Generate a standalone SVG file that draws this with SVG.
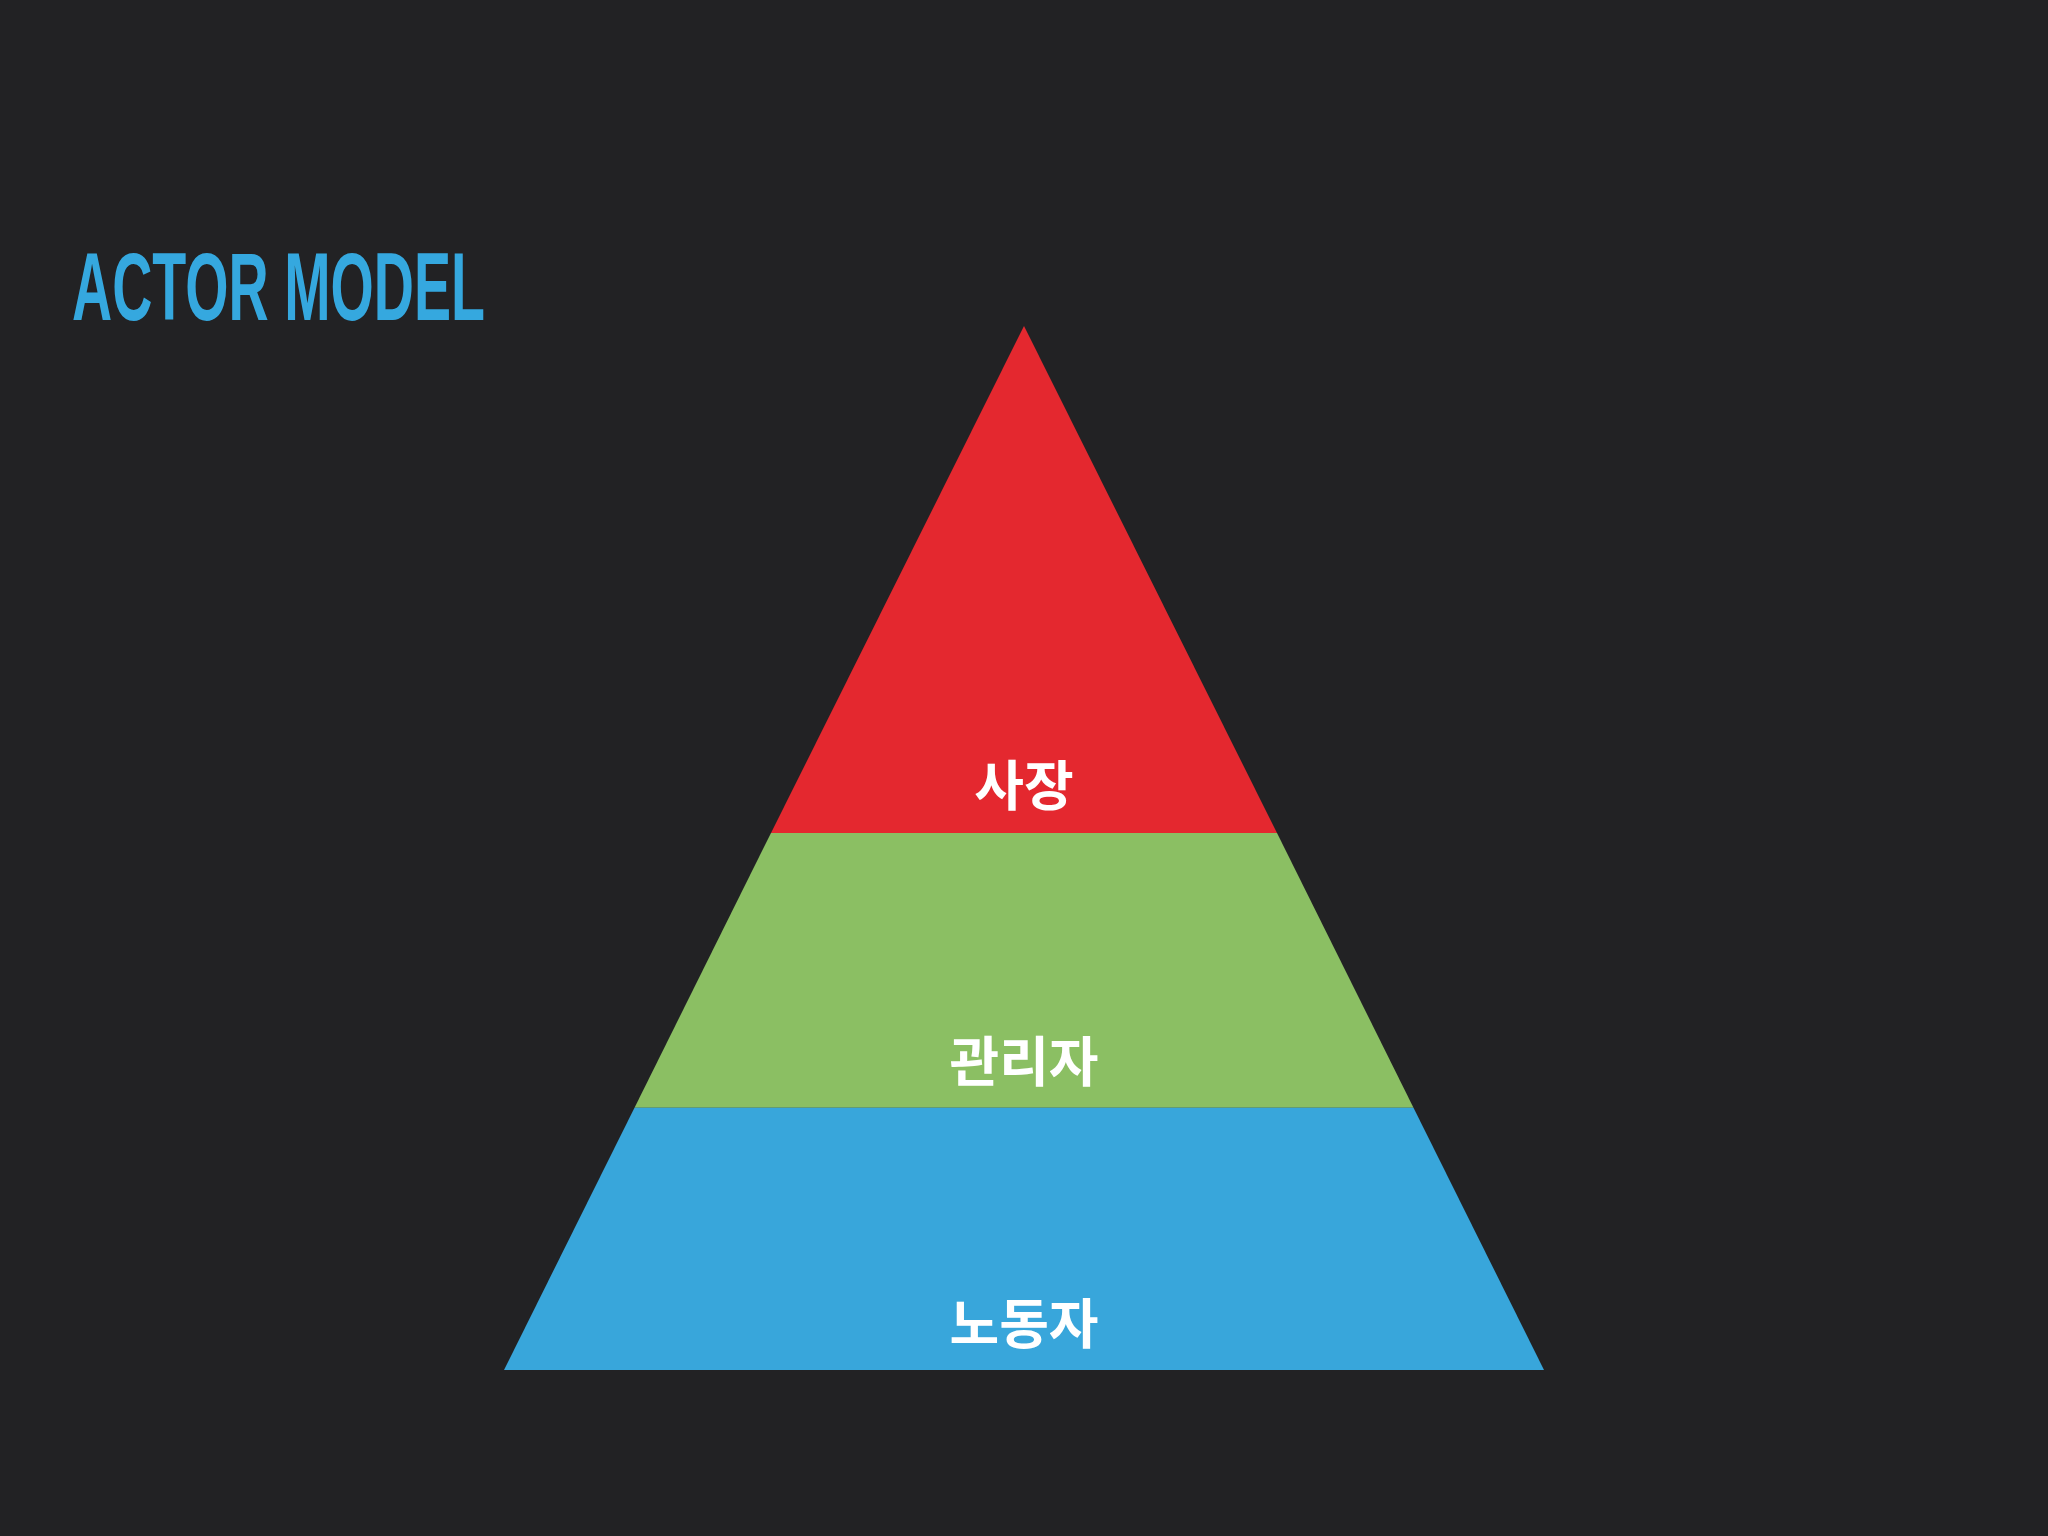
<svg xmlns="http://www.w3.org/2000/svg" width="2048" height="1536" viewBox="0 0 2048 1536">
<style>
.lbl{font-family:"Noto Sans CJK KR","Noto Sans",sans-serif;font-weight:700;font-size:54px;fill:#ffffff;text-anchor:middle}
.title{font-family:"Liberation Sans",Arial,sans-serif;font-weight:700;font-size:97px;fill:#35a8df}
</style>
<rect width="2048" height="1536" fill="#222224"/>
<text class="title" x="72" y="320" textLength="413" lengthAdjust="spacingAndGlyphs">ACTOR MODEL</text>
<g id="top">
<polygon points="1024,326 1277,833 771,833" fill="#e4282f"/>
<text class="lbl" x="1024" y="806">사장</text>
</g>
<g id="middle">
<polygon points="771,833 1277,833 1413.5,1107.7 634.5,1107.7" fill="#8bbf63"/>
<text class="lbl" x="1024" y="1082">관리자</text>
</g>
<g id="bottom">
<polygon points="634.5,1107.7 1413.5,1107.7 1544,1370 504,1370" fill="#38a6db"/>
<text class="lbl" x="1024" y="1344">노동자</text>
</g>
<g id="connectors"/>
</svg>
